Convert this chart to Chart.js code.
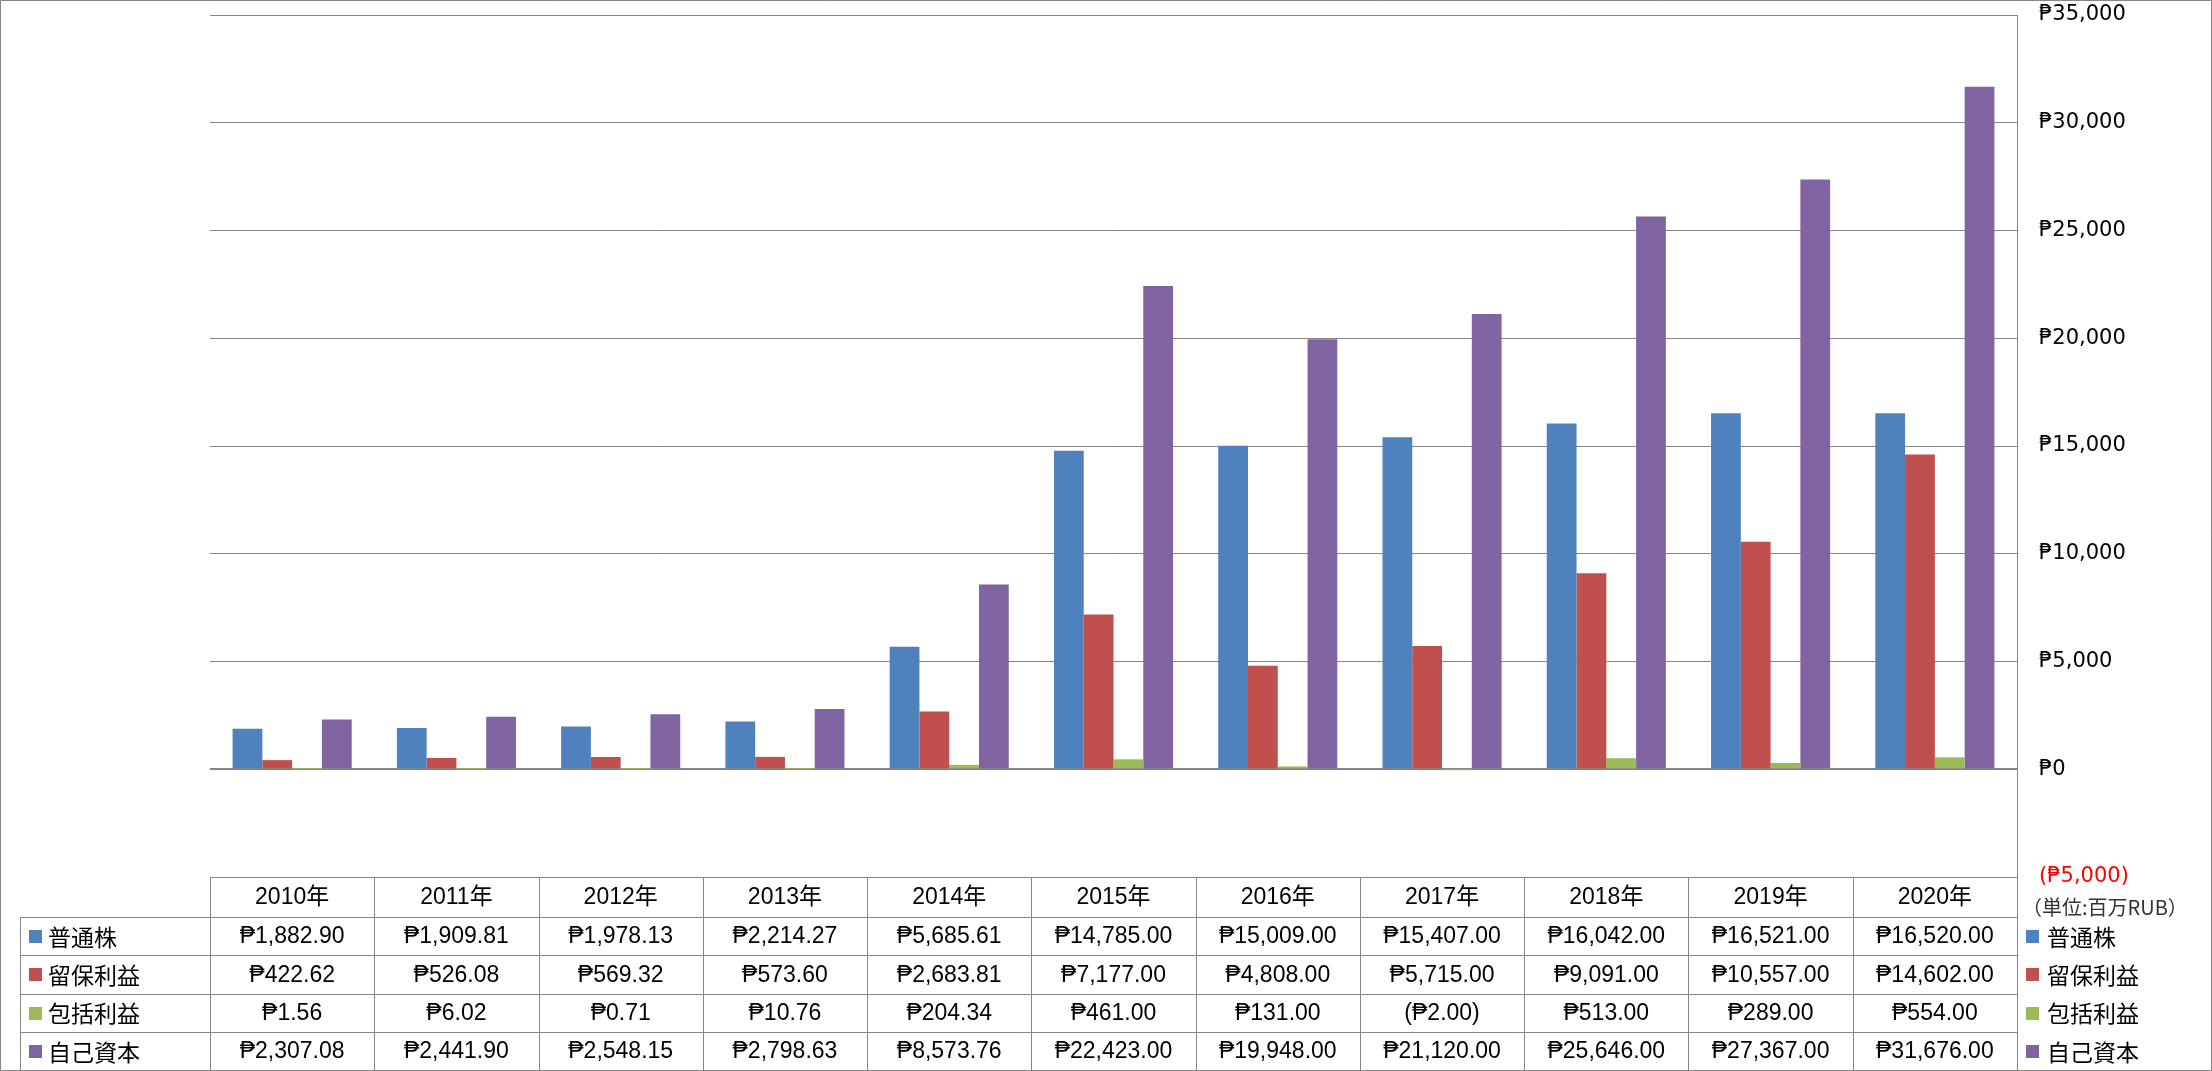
<!DOCTYPE html>
<html>
<head>
<meta charset="utf-8">
<script src="https://cdn.jsdelivr.net/npm/chart.js@4"></script>
<style>
html,body{margin:0;padding:0;background:#fff;}
#wrap{position:relative;width:2212px;height:1071px;}
canvas{display:block;}
</style>
</head>
<body>
<div id="wrap"><canvas id="c" width="2212" height="1071"></canvas></div>
<script>
const years = ['2010年','2011年','2012年','2013年','2014年','2015年','2016年','2017年','2018年','2019年','2020年'];
const seriesNames = ['普通株','留保利益','包括利益','自己資本'];
const commonStock = [1882.90,1909.81,1978.13,2214.27,5685.61,14785.00,15009.00,15407.00,16042.00,16521.00,16520.00];
const retainedEarnings = [422.62,526.08,569.32,573.60,2683.81,7177.00,4808.00,5715.00,9091.00,10557.00,14602.00];
const comprehensiveIncome = [1.56,6.02,0.71,10.76,204.34,461.00,131.00,-2.00,513.00,289.00,554.00];
const equity = [2307.08,2441.90,2548.15,2798.63,8573.76,22423.00,19948.00,21120.00,25646.00,27367.00,31676.00];
const colors = ['#4F81BD','#C0504D','#9BBB59','#8064A2'];
const yMin = -5000, yMax = 35000, yStep = 5000;
const unitLabel = '（単位:百万RUB）';

const allSeries = [commonStock, retainedEarnings, comprehensiveIncome, equity];

function fmtMoney(v, dec){
  const a = Math.abs(v).toLocaleString('en-US',{minimumFractionDigits:dec,maximumFractionDigits:dec});
  return v < 0 ? '(₱' + a + ')' : '₱' + a;
}

const GRID = '#868686';

const tablePlugin = {
  id:'dataTable',
  afterDraw(chart){
    const ctx = chart.ctx;
    const ca = chart.chartArea;
    const n = years.length;
    const w = (ca.right - ca.left)/n;
    const top = ca.bottom;
    const headerH = 40;
    const rowH = 38.25;
    const tableLeft = 20;
    const bottom = top + headerH + rowH*4;
    ctx.save();
    ctx.strokeStyle = GRID;
    ctx.lineWidth = 1;
    ctx.beginPath();
    ctx.moveTo(ca.left, Math.round(top)+0.5); ctx.lineTo(ca.right, Math.round(top)+0.5);
    for(let r=0;r<=4;r++){
      const y = Math.round(top + headerH + r*rowH)+0.5;
      ctx.moveTo(tableLeft, y); ctx.lineTo(ca.right, y);
    }
    for(let i=0;i<=n;i++){
      const x = Math.round(ca.left + i*w)+0.5;
      ctx.moveTo(x, top); ctx.lineTo(x, bottom);
    }
    ctx.moveTo(tableLeft+0.5, top+headerH); ctx.lineTo(tableLeft+0.5, bottom);
    ctx.stroke();

    ctx.beginPath();
    ctx.rect(0.5,0.5,chart.width-1,chart.height-1);
    ctx.stroke();

    ctx.fillStyle = '#000';
    ctx.textBaseline = 'middle';
    ctx.textAlign = 'center';
    ctx.font = '23px "Liberation Sans", "Noto Sans CJK JP", sans-serif';
    for(let i=0;i<n;i++){
      const cx = ca.left + (i+0.5)*w;
      ctx.fillText(years[i], cx, top + headerH/2 + 1);
      for(let s=0;s<4;s++){
        const cy = top + headerH + (s+0.5)*rowH + 1;
        ctx.fillText(fmtMoney(allSeries[s][i],2), cx, cy);
      }
    }
    ctx.textAlign = 'left';
    ctx.font = '23px "Noto Sans CJK JP", sans-serif';
    for(let s=0;s<4;s++){
      const cy = top + headerH + (s+0.5)*rowH;
      ctx.fillStyle = colors[s];
      ctx.fillRect(29, Math.round(cy-6), 13, 13);
      ctx.fillStyle = '#000';
      ctx.fillText(seriesNames[s], 48, cy+1);
      ctx.fillStyle = colors[s];
      ctx.fillRect(2026, Math.round(cy-6), 13, 13);
      ctx.fillStyle = '#000';
      ctx.fillText(seriesNames[s], 2047, cy+1);
    }
    ctx.font = '20px "Noto Sans CJK JP", sans-serif';
    ctx.fillStyle = '#333';
    ctx.fillText(unitLabel, 2022, top + 30);
    ctx.restore();
  }
};

new Chart(document.getElementById('c'), {
  type:'bar',
  data:{
    labels: years,
    datasets: seriesNames.map((name,i)=>({
      label:name,
      data: allSeries[i],
      backgroundColor: colors[i],
      borderWidth:0,
      categoryPercentage:0.725,
      barPercentage:1.0
    }))
  },
  options:{
    responsive:false,
    animation:false,
    devicePixelRatio:1,
    layout:{padding:{top:15,left:210,right:0,bottom:194}},
    plugins:{legend:{display:false},tooltip:{enabled:false}},
    scales:{
      x:{display:false, offset:true, grid:{display:false}},
      y:{
        position:'right',
        min:yMin, max:yMax,
        afterFit(s){ s.width = 195; s.paddingTop = 0; s.paddingBottom = 0; },
        border:{display:true,color:GRID,width:1},
        grid:{
          drawTicks:false,
          color: GRID,
          lineWidth: c => (c.tick && c.tick.value === 0) ? 2 : 1
        },
        ticks:{
          stepSize:yStep,
          padding:22,
          font:{family:'"DejaVu Sans", sans-serif', size:21},
          color: c => (c.tick && c.tick.value < 0) ? '#FF0000' : '#000',
          callback: v => fmtMoney(v,0)
        }
      }
    }
  },
  plugins:[tablePlugin]
});
</script>
</body>
</html>
